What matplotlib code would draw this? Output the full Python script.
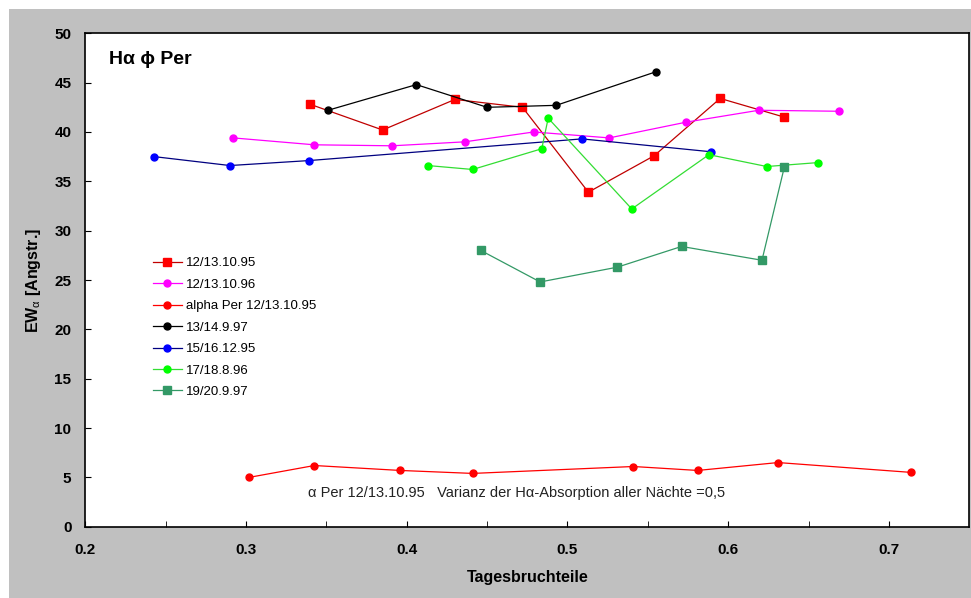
import matplotlib.pyplot as plt
from matplotlib.patches import Rectangle

plt.rcParams['font.family'] = ['Liberation Sans', 'DejaVu Sans']
plt.rcParams['mathtext.fontset'] = 'custom'
plt.rcParams['mathtext.rm'] = 'Liberation Sans'
plt.rcParams['mathtext.it'] = 'Liberation Sans'
plt.rcParams['mathtext.bf'] = 'Liberation Sans:bold'

# data
x_sq95 = [0.340, 0.385, 0.430, 0.472, 0.513, 0.554, 0.595, 0.635]
y_sq95 = [42.8, 40.2, 43.3, 42.5, 33.9, 37.6, 43.4, 41.5]

x_96 = [0.292, 0.3425, 0.391, 0.436, 0.479, 0.526, 0.574, 0.619, 0.669]
y_96 = [39.4, 38.7, 38.6, 39.0, 40.0, 39.4, 41.0, 42.2, 42.1]

x_alpha = [0.302, 0.3425, 0.396, 0.441, 0.541, 0.581, 0.631, 0.714]
y_alpha = [5.0, 6.2, 5.7, 5.4, 6.1, 5.7, 6.5, 5.5]

x_97a = [0.351, 0.406, 0.450, 0.493, 0.555]
y_97a = [42.2, 44.8, 42.5, 42.7, 46.1]

x_dec95 = [0.243, 0.290, 0.339, 0.509, 0.589]
y_dec95 = [37.5, 36.6, 37.1, 39.3, 38.0]

x_aug96 = [0.413, 0.441, 0.484, 0.488, 0.540, 0.588, 0.624, 0.656]
y_aug96 = [36.6, 36.2, 38.3, 41.4, 32.2, 37.7, 36.5, 36.9]

x_97b = [0.446, 0.483, 0.531, 0.571, 0.621, 0.635]
y_97b = [28.0, 24.8, 26.3, 28.4, 27.0, 36.5]

labels = ['12/13.10.95', '12/13.10.96', 'alpha Per 12/13.10.95', '13/14.9.97',
          '15/16.12.95', '17/18.8.96', '19/20.9.97']

fig = plt.figure(figsize=(9.71, 5.98), dpi=100)
fig.patches.append(Rectangle((9 / 971, 0), 1, 1 - 9 / 598, transform=fig.transFigure,
                             facecolor='#c0c0c0', edgecolor='none', zorder=-10))
ax = fig.add_axes([85.3 / 971, 1 - 526.7 / 598, 884 / 971, 493.4 / 598])

lw = 0.9
ax.plot(x_sq95, y_sq95, color='#c00000', lw=lw, marker='s', ms=5.5, mfc='#ff0000', mec='#ff0000', label=labels[0])
ax.plot(x_96, y_96, color='#ff00ff', lw=lw, marker='o', ms=5, mfc='#ff00ff', mec='#ff00ff', label=labels[1])
ax.plot(x_alpha, y_alpha, color='#ff0000', lw=lw, marker='o', ms=5, mfc='#ff0000', mec='#ff0000', label=labels[2])
ax.plot(x_97a, y_97a, color='black', lw=lw, marker='o', ms=5, label=labels[3])
ax.plot(x_dec95, y_dec95, color='#000080', lw=lw, marker='o', ms=5, mfc='#0000ff', mec='#0000ff', label=labels[4])
ax.plot(x_aug96, y_aug96, color='#33dd33', lw=lw, marker='o', ms=5, mfc='#00ff00', mec='#00ff00', label=labels[5])
ax.plot(x_97b, y_97b, color='#339966', lw=lw, marker='s', ms=5.5, label=labels[6])

ax.set_xlim(0.2, 0.75)
ax.set_ylim(0, 50)
ax.set_xticks([0.2, 0.3, 0.4, 0.5, 0.6, 0.7])
ax.set_xticks([0.25, 0.35, 0.45, 0.55, 0.65], minor=True)
ax.set_yticks(range(0, 51, 5))
ax.tick_params(axis='x', which='both', direction='in', length=4, pad=12, labelsize=11)
ax.tick_params(axis='y', direction='in', length=4, pad=10, labelsize=11)
for t in ax.get_xticklabels() + ax.get_yticklabels():
    t.set_fontweight('bold')
for s in ax.spines.values():
    s.set_linewidth(1.2)

ax.set_xlabel('Tagesbruchteile', fontsize=11.5, fontweight='bold', labelpad=9)
ax.set_ylabel(r'EW$_\alpha$ [Angstr.]', fontsize=11.5, fontweight='bold', labelpad=8)

ax.text(0.027, 0.947, 'Hα ϕ Per', transform=ax.transAxes, fontsize=14, fontweight='bold',
        ha='left', va='center')
ax.text(0.3386, 3.45, 'α Per 12/13.10.95   Varianz der Hα-Absorption aller Nächte =0,5',
        fontsize=10.5, ha='left', va='center', color='#222222')

ax.legend(loc='upper left', bbox_to_anchor=(0.069, 0.56), frameon=False, fontsize=9.5,
          handlelength=2.2, handletextpad=0.3, labelspacing=0.7, borderpad=0)

fig.savefig('out.png', dpi=100)
